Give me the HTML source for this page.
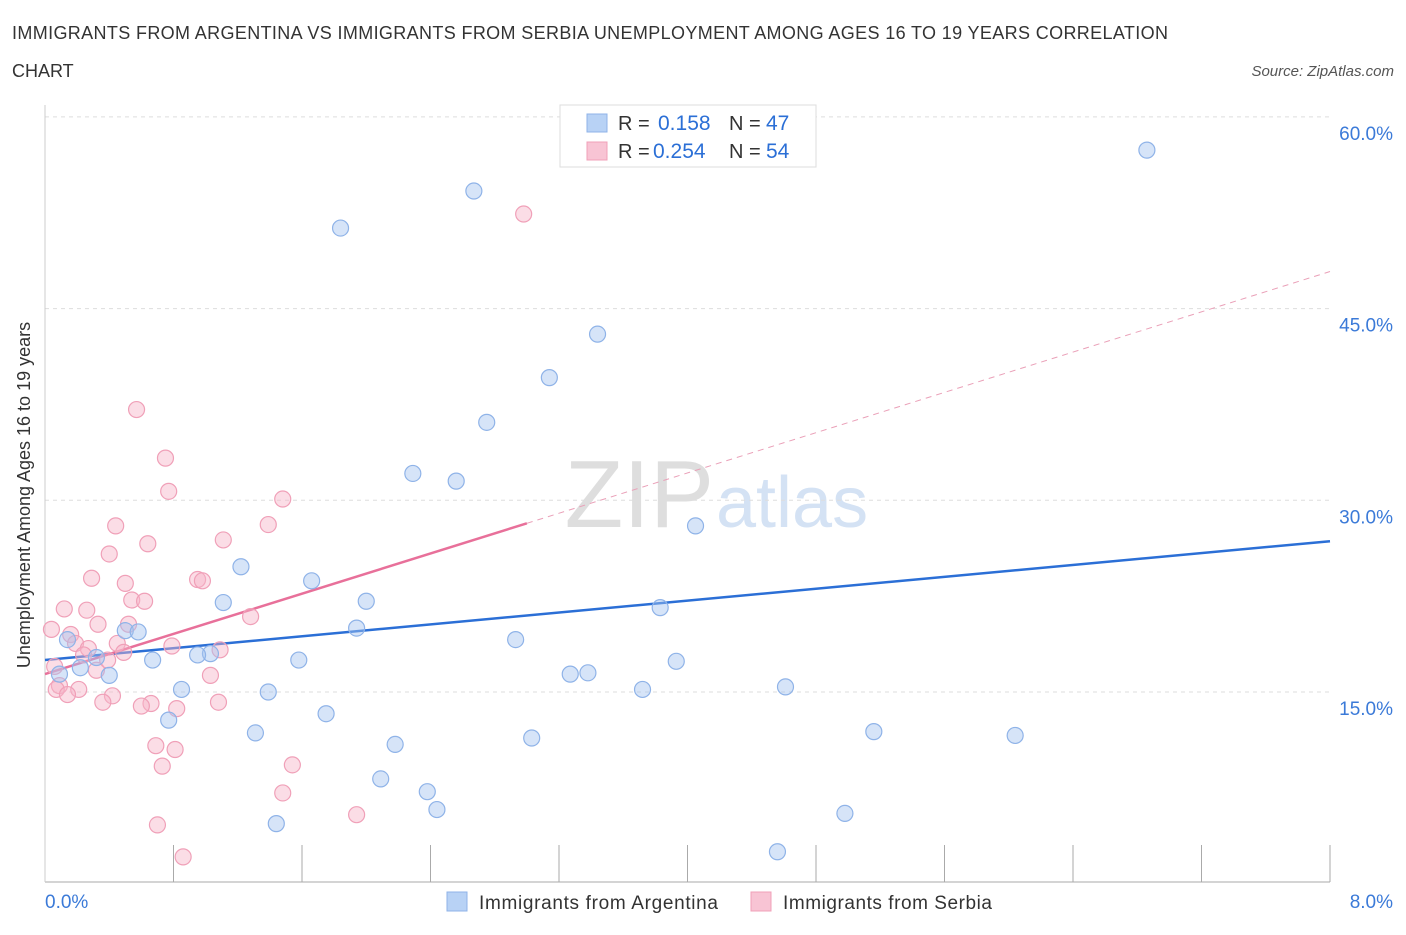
<!DOCTYPE html>
<html><head><meta charset="utf-8"><style>
body{margin:0;background:#fff;font-family:"Liberation Sans",sans-serif}
svg text{font-family:"Liberation Sans",sans-serif}
</style></head><body>
<svg width="1406" height="930">
<text x="12" y="39" font-size="18" fill="#333" textLength="1156" lengthAdjust="spacing">IMMIGRANTS FROM ARGENTINA VS IMMIGRANTS FROM SERBIA UNEMPLOYMENT AMONG AGES 16 TO 19 YEARS CORRELATION</text>
<text x="12" y="77" font-size="18" fill="#333">CHART</text>
<text x="1394" y="76" font-size="15" fill="#555" font-style="italic" text-anchor="end">Source: ZipAtlas.com</text>
<text x="30" y="495" font-size="18" fill="#333" text-anchor="middle" transform="rotate(-90 30 495)">Unemployment Among Ages 16 to 19 years</text>
<text x="714" y="527" font-size="96" fill="#dedede" text-anchor="end" font-family="Liberation Serif">ZIP</text>
<text x="716" y="527" font-size="72" fill="#d4e2f4">atlas</text>
<g id="grid"></g><g id="lines"></g><g id="pts"></g>
<g>
<rect x="560" y="105" width="256" height="62" fill="#fff" stroke="#ddd"/>
<rect x="587" y="114" width="20" height="18" fill="#b8d2f5" stroke="#8fb3e8"/>
<rect x="587" y="142" width="20" height="18" fill="#f8c4d4" stroke="#f0a0b8"/>
<text x="618" y="130" font-size="20" fill="#333">R =</text><text x="658" y="130" font-size="21" fill="#2b6fd6">0.158</text>
<text x="729" y="130" font-size="20" fill="#333">N =</text><text x="766" y="130" font-size="21" fill="#2b6fd6">47</text>
<text x="618" y="158" font-size="20" fill="#333">R =</text><text x="653" y="158" font-size="21" fill="#2b6fd6">0.254</text>
<text x="729" y="158" font-size="20" fill="#333">N =</text><text x="766" y="158" font-size="21" fill="#2b6fd6">54</text>
</g>
<g>
<rect x="447" y="892" width="20" height="19" fill="#b8d2f5" stroke="#8fb3e8"/>
<text x="479" y="909" font-size="19" fill="#333" textLength="239">Immigrants from Argentina</text>
<rect x="751" y="892" width="20" height="19" fill="#f8c4d4" stroke="#f0a0b8"/>
<text x="783" y="909" font-size="19" fill="#333" textLength="209">Immigrants from Serbia</text>
</g>
</svg>
<script>
const blueX=[6.86,2.67,1.84,3.44,3.14,2.75,2.29,2.56,4.05,1.22,1.66,1.11,2.00,3.83,1.94,0.50,0.58,2.93,0.14,1.03,0.95,1.58,0.67,0.32,3.93,0.22,0.40,3.27,3.38,0.09,0.85,3.72,1.39,4.61,0.77,1.75,1.31,5.16,6.04,3.03,2.18,2.09,2.38,2.44,1.44,4.98,4.56];
const blueY=[57.4,54.2,51.3,43.0,39.6,36.1,32.1,31.5,28.0,24.8,23.7,22.0,22.1,21.6,20.0,19.8,19.7,19.1,19.1,18.0,17.9,17.5,17.5,17.7,17.4,16.9,16.3,16.4,16.5,16.4,15.2,15.2,15.0,15.4,12.8,13.3,11.8,11.9,11.6,11.4,10.9,8.2,7.2,5.8,4.7,5.5,2.5];
const pinkX=[2.98,0.57,0.75,0.77,1.48,0.44,1.39,1.11,0.64,0.40,0.29,0.50,0.95,0.98,0.54,0.62,0.12,0.26,1.28,0.52,0.33,0.04,0.16,0.19,0.79,0.45,0.27,1.09,0.49,0.24,0.39,0.06,0.32,1.03,0.09,0.21,0.07,0.14,0.42,0.36,0.66,0.60,1.08,0.82,0.69,0.81,0.73,1.54,1.48,1.94,0.70,0.86];
const pinkY=[52.4,37.1,33.3,30.7,30.1,28.0,28.1,26.9,26.6,25.8,23.9,23.5,23.8,23.7,22.2,22.1,21.5,21.4,20.9,20.3,20.3,19.9,19.5,18.8,18.6,18.8,18.4,18.3,18.1,17.9,17.5,17.0,16.7,16.3,15.5,15.2,15.2,14.8,14.7,14.2,14.1,13.9,14.2,13.7,10.8,10.5,9.2,9.3,7.1,5.4,4.6,2.1];
const yTicks=[15,30,45,60];
const xTickLabels=["0.0%","8.0%"];
const blueTrend=[[0,17.5],[8,26.8]];
const pinkTrend=[[0,16.4],[3.0,28.2]];
const pinkDash=[[3.0,28.2],[8,47.9]];
const NS="http://www.w3.org/2000/svg";
const X=v=>45+v/8*1285, Y=v=>883.7-v*12.78;
function mk(t,a,p){const e=document.createElementNS(NS,t);for(const k in a)e.setAttribute(k,a[k]);p.appendChild(e);return e;}
const g=document.getElementById('grid');
yTicks.forEach(t=>{
 const l=mk('line',{x1:45,x2:1330,y1:Y(t),y2:Y(t),stroke:'#ddd','stroke-dasharray':'4,4'},g);
 
 
 const tx=mk('text',{x:1393,y:Y(t)+23,'font-size':19,fill:'#3b7ad8','text-anchor':'end'},g);
 tx.textContent=t.toFixed(1)+'%';
 
 
});
const ax=mk('line',{x1:45,x2:1330,y1:882,y2:882,stroke:'#aaa'},g);


const ay=mk('line',{x1:45,x2:45,y1:105,y2:882,stroke:'#ccc'},g);


for(let i=1;i<=10;i++){const t=mk('line',{x1:X(i*0.8),x2:X(i*0.8),y1:845,y2:882,stroke:'#aaa'},g);
 
 }
[[xTickLabels[0],45,'start'],[xTickLabels[1],1393,'end']].forEach(a=>{const t=mk('text',{x:a[1],y:908,'font-size':19,fill:'#3b7ad8','text-anchor':a[2]},g);t.textContent=a[0];
 
 });
const L=document.getElementById('lines');
function ln(p,c,d,n){const e=mk('line',{x1:X(p[0][0]),y1:Y(p[0][1]),x2:X(p[1][0]),y2:Y(p[1][1]),stroke:c,'stroke-width':d?1:2.5},L);if(d)e.setAttribute('stroke-dasharray','6,5');
 
 }
ln(blueTrend,'#2b6fd6',0,'argentina-trend-line');
ln(pinkTrend,'#e8709a',0,'serbia-trend-line');
ln(pinkDash,'#eaa0b8',1,'serbia-trend-extension');
const P=document.getElementById('pts');
pinkX.forEach((x,i)=>{const c=mk('circle',{cx:X(x),cy:Y(pinkY[i]),r:8,fill:'rgba(246,180,200,0.45)',stroke:'#f0a0b8','stroke-width':1.2},P);
 
 });
blueX.forEach((x,i)=>{const c=mk('circle',{cx:X(x),cy:Y(blueY[i]),r:8,fill:'rgba(164,196,240,0.45)',stroke:'#8fb3e8','stroke-width':1.2},P);
 
 });
</script>
</body></html>
